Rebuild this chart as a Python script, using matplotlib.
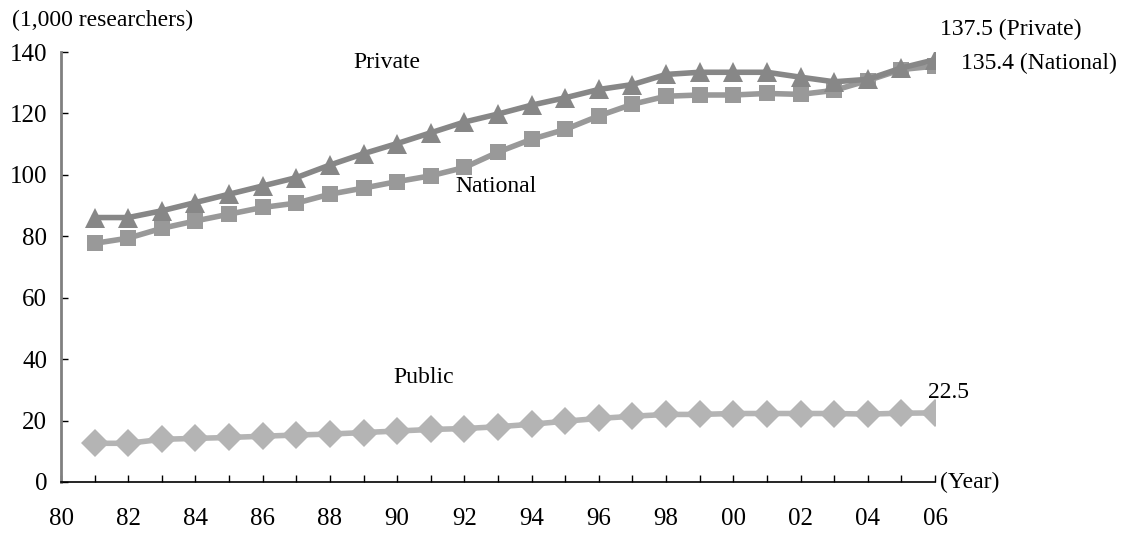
import numpy as np
import matplotlib.pyplot as plt

# ---------------------------------------------------------------- data
years = list(range(1981, 2007))

private = [86.1, 86.1, 88.3, 91.0, 93.7, 96.4, 99.1, 103.2, 106.9, 110.2,
           113.7, 117.2, 119.8, 122.7, 125.1, 127.8, 129.4, 132.7, 133.4, 133.4,
           133.4, 131.8, 130.3, 131.1, 134.8, 137.5]
national = [77.7, 79.4, 82.6, 85.0, 87.2, 89.4, 90.8, 93.7, 95.7, 97.8,
            99.7, 102.4, 107.4, 111.6, 114.8, 119.2, 123.0, 125.6, 126.0, 126.0,
            126.5, 126.2, 127.5, 130.7, 134.3, 135.4]
public = [12.6, 12.6, 13.9, 14.2, 14.5, 14.9, 15.3, 15.6, 16.1, 16.6,
          17.1, 17.4, 18.0, 18.8, 19.8, 20.7, 21.4, 22.0, 22.0, 22.3,
          22.3, 22.3, 22.3, 22.1, 22.4, 22.5]

xtick_years = list(range(1980, 2007, 2))
xtick_labels = ["80", "82", "84", "86", "88", "90", "92", "94",
                "96", "98", "00", "02", "04", "06"]
yticks = [0, 20, 40, 60, 80, 100, 120, 140]

# ---------------------------------------------------------------- style
plt.rcParams["font.family"] = ["Liberation Serif", "DejaVu Serif"]
FS = 17
TICK_FS = 18

c_private = "#878787"
c_national = "#999999"
c_public = "#b4b4b4"

fig = plt.figure(figsize=(11.22, 5.34), dpi=100)
ax = fig.add_axes([61 / 1122, 1 - 482 / 534, (935 - 61) / 1122, (482 - 52) / 534])

ax.plot(years, public, color=c_public, lw=4, marker="D", ms=14,
        markeredgewidth=0, zorder=3)
ax.plot(years, national, color=c_national, lw=4, marker="s", ms=12,
        markeredgewidth=0, zorder=4)
ax.plot(years, private, color=c_private, lw=4, marker="^", ms=15,
        markeredgewidth=0, zorder=5)

ax.set_xlim(1980, 2006)
ax.set_ylim(0, 140)
ax.set_xticks(xtick_years)
ax.set_xticklabels(xtick_labels)
ax.set_xticks(range(1980, 2007), minor=True)
ax.set_yticks(yticks)

for s in ("top", "right"):
    ax.spines[s].set_visible(False)
ax.spines["left"].set_color("#808080")
ax.spines["left"].set_linewidth(2)
ax.spines["bottom"].set_color("black")
ax.spines["bottom"].set_linewidth(1.2)

ax.tick_params(axis="x", which="both", direction="in", length=5, width=1,
               color="black", labelsize=TICK_FS, pad=19)
ax.tick_params(axis="y", direction="in", length=5, width=1, color="black",
               labelsize=TICK_FS, pad=10)

# ---------------------------------------------------------------- labels
ax.text(1989.7, 136.6, "Private", fontsize=FS, ha="center", va="center")
ax.text(1992.95, 96.2, "National", fontsize=FS, ha="center", va="center")
ax.text(1990.8, 34.1, "Public", fontsize=FS, ha="center", va="center")
ax.text(2005.8, 29.2, "22.5", fontsize=FS, ha="left", va="center", clip_on=False)
ax.text(2006.16, 147.2, "137.5 (Private)", fontsize=FS, ha="left", va="center",
        clip_on=False)
ax.text(2006.76, 136.2, "135.4 (National)", fontsize=FS, ha="left", va="center",
        clip_on=False)
ax.text(2006.16, 0, "(Year)", fontsize=FS, ha="left", va="center", clip_on=False)
fig.text(12 / 1122, 1 - 20 / 534, "(1,000 researchers)", fontsize=FS,
         ha="left", va="center")

fig.savefig("out.png", dpi=100)
